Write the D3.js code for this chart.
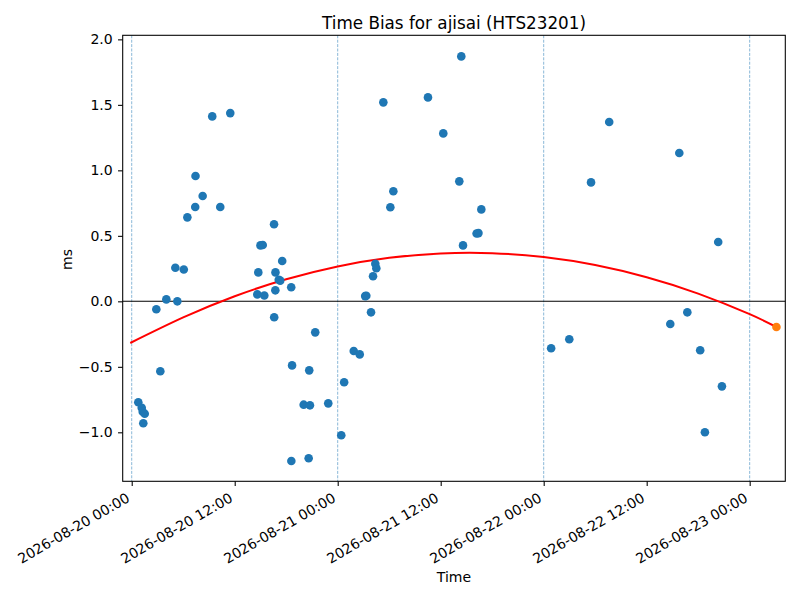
<!DOCTYPE html>
<html><head><meta charset="utf-8">
<script src="https://cdn.jsdelivr.net/npm/d3@7"></script>
<style>body{margin:0;background:#fff} text{font-family:"DejaVu Sans",sans-serif}</style>
</head><body><svg id="c" width="800" height="600"></svg>
<script>
// ---- data ----
const times = [
 "2026-08-20T00:46","2026-08-20T01:10","2026-08-20T01:17","2026-08-20T01:31","2026-08-20T01:21",
 "2026-08-20T02:52","2026-08-20T03:20","2026-08-20T04:02","2026-08-20T05:19","2026-08-20T05:05",
 "2026-08-20T06:04","2026-08-20T06:29","2026-08-20T07:24","2026-08-20T07:26","2026-08-20T08:16",
 "2026-08-20T09:23","2026-08-20T10:19","2026-08-20T11:29","2026-08-20T14:38","2026-08-20T14:45",
 "2026-08-20T15:00","2026-08-20T15:16","2026-08-20T15:27","2026-08-20T16:35","2026-08-20T16:36",
 "2026-08-20T16:45","2026-08-20T16:44","2026-08-20T17:08","2026-08-20T17:18","2026-08-20T17:32",
 "2026-08-20T18:35","2026-08-20T18:36","2026-08-20T18:41","2026-08-20T20:02","2026-08-20T20:41",
 "2026-08-20T20:37","2026-08-20T20:46","2026-08-20T21:23","2026-08-20T22:54","2026-08-21T00:25",
 "2026-08-21T00:45","2026-08-21T01:52","2026-08-21T02:34","2026-08-21T03:12","2026-08-21T03:20",
 "2026-08-21T03:53","2026-08-21T04:07","2026-08-21T04:23","2026-08-21T04:30","2026-08-21T05:19",
 "2026-08-21T06:08","2026-08-21T06:29","2026-08-21T10:31","2026-08-21T12:18","2026-08-21T14:10",
 "2026-08-21T14:24","2026-08-21T14:36","2026-08-21T16:11","2026-08-21T16:24","2026-08-21T16:44",
 "2026-08-22T00:52","2026-08-22T02:59","2026-08-22T05:31","2026-08-22T07:38","2026-08-22T14:45",
 "2026-08-22T15:48","2026-08-22T16:44","2026-08-22T18:14","2026-08-22T18:47","2026-08-22T20:20",
 "2026-08-22T20:46"
];
const biasMs = [
 -0.771,-0.812,-0.843,-0.858,-0.931,
 -0.061,-0.534,0.015,0.000,0.256,
 0.243,0.641,0.720,0.957,0.804,
 1.412,0.720,1.437,0.053,0.221,
 0.427,0.430,0.044,0.588,-0.122,
 0.221,0.084,0.165,0.158,0.308,
 0.108,-1.219,-0.489,-0.789,-0.527,
 -1.198,-0.794,-0.237,-0.779,-1.023,
 -0.618,-0.379,-0.405,0.040,0.042,
 -0.084,0.191,0.287,0.252,1.519,
 0.718,0.840,1.557,1.282,0.916,
 1.870,0.427,0.518,0.521,0.702,
 -0.358,-0.290,0.908,1.369,-0.173,
 1.132,-0.084,-0.374,-1.000,0.453,
 -0.649
];
const fitTimes = [
 "2026-08-19T23:50","2026-08-20T06:00","2026-08-20T12:00","2026-08-20T18:00",
 "2026-08-21T00:00","2026-08-21T06:00","2026-08-21T12:00","2026-08-21T18:00",
 "2026-08-22T00:00","2026-08-22T06:00","2026-08-22T12:00","2026-08-22T18:00",
 "2026-08-23T00:00","2026-08-23T03:07"
];
const fitMs = [-0.318,-0.123,0.039,0.168,0.266,0.332,0.366,0.368,0.338,0.277,0.184,0.059,-0.098,-0.196];
const predTimes = ["2026-08-23T03:07"];
const predMs = [-0.196];
const dayLines = ["2026-08-20T00:00","2026-08-21T00:00","2026-08-22T00:00","2026-08-23T00:00"];
const xTicks = ["2026-08-20T00:00","2026-08-20T12:00","2026-08-21T00:00","2026-08-21T12:00",
                "2026-08-22T00:00","2026-08-22T12:00","2026-08-23T00:00"];
const yTicks = [-1.0,-0.5,0.0,0.5,1.0,1.5,2.0];
const xDomain = ["2026-08-19T22:57","2026-08-23T04:09"];
const yDomain = [-1.374, 2.031];
const title = "Time Bias for ajisai (HTS23201)";
const xLabel = "Time", yLabel = "ms";

// ---- drawing ----
const P = s => new Date(s + ":00Z");
const L = 122.7, R = 785.3, T = 35.3, B = 481.3;
const svg = d3.select("#c");
const x = d3.scaleUtc().domain(xDomain.map(P)).range([L, R]);
const y = d3.scaleLinear().domain(yDomain).range([B, T]);
const fmtX = d3.utcFormat("%Y-%m-%d %H:%M");

svg.append("rect").attr("x",0).attr("y",0).attr("width",800).attr("height",600).attr("fill","#fff");

const plot = svg.append("g");
// vertical day lines
plot.selectAll("line.day").data(dayLines).join("line").attr("class","day")
  .attr("x1", d=>x(P(d))).attr("x2", d=>x(P(d))).attr("y1", T).attr("y2", B)
  .attr("stroke","#1f77b4").attr("stroke-opacity",0.75).attr("stroke-width",0.7)
  .attr("stroke-dasharray","3,1.4");
// zero line
plot.append("line").attr("x1",L).attr("x2",R).attr("y1",y(0)).attr("y2",y(0))
  .attr("stroke","#000").attr("stroke-width",1.07);
// fit line
const fitData = fitTimes.map((t,i)=>({t:P(t), v:fitMs[i]}));
plot.append("path").datum(fitData)
  .attr("d", d3.line().x(d=>x(d.t)).y(d=>y(d.v)).curve(d3.curveNatural))
  .attr("fill","none").attr("stroke","#ff0000").attr("stroke-width",2);
// scatter
const pts = times.map((t,i)=>({t:P(t), v:biasMs[i]}));
plot.selectAll("circle.pt").data(pts).join("circle").attr("class","pt")
  .attr("cx", d=>x(d.t)).attr("cy", d=>y(d.v)).attr("r",4.3).attr("fill","#1f77b4");
const pred = predTimes.map((t,i)=>({t:P(t), v:predMs[i]}));
plot.selectAll("circle.pred").data(pred).join("circle").attr("class","pred")
  .attr("cx", d=>x(d.t)).attr("cy", d=>y(d.v)).attr("r",4.3).attr("fill","#ff7f0e");

// axes
const xa = svg.append("g").attr("transform",`translate(0,${B})`)
  .call(d3.axisBottom(x).tickValues(xTicks.map(P)).tickFormat(fmtX).tickSize(4.67).tickSizeOuter(0));
xa.select(".domain").remove();
xa.selectAll(".tick line").attr("stroke","#000").attr("stroke-width",1.07);
xa.selectAll(".tick text").attr("font-size","14px").attr("fill","#000")
  .attr("font-family","DejaVu Sans").attr("text-anchor","end")
  .attr("x",0).attr("y",0).attr("dy",0)
  .attr("transform","translate(-1.5,19.5) rotate(-30)");

const ya = svg.append("g").attr("transform",`translate(${L},0)`)
  .call(d3.axisLeft(y).tickValues(yTicks).tickFormat(d3.format(".1f")).tickSize(4.67).tickPadding(5.3).tickSizeOuter(0));
ya.select(".domain").remove();
ya.selectAll(".tick line").attr("stroke","#000").attr("stroke-width",1.07);
ya.selectAll(".tick text").attr("font-size","14px").attr("fill","#000").attr("font-family","DejaVu Sans");

// frame
svg.append("rect").attr("x",L).attr("y",T).attr("width",R-L).attr("height",B-T)
  .attr("fill","none").attr("stroke","#000").attr("stroke-width",1.07);

// labels
svg.append("text").attr("x",(L+R)/2).attr("y",29.3).attr("text-anchor","middle")
  .attr("font-size","16.8px").text(title);
svg.append("text").attr("x",(L+R)/2).attr("y",581.5).attr("text-anchor","middle")
  .attr("font-size","14px").text(xLabel);
svg.append("text").attr("transform","translate(72.3,259.5) rotate(-90)").attr("text-anchor","middle")
  .attr("font-size","14px").text(yLabel);
</script></body></html>
